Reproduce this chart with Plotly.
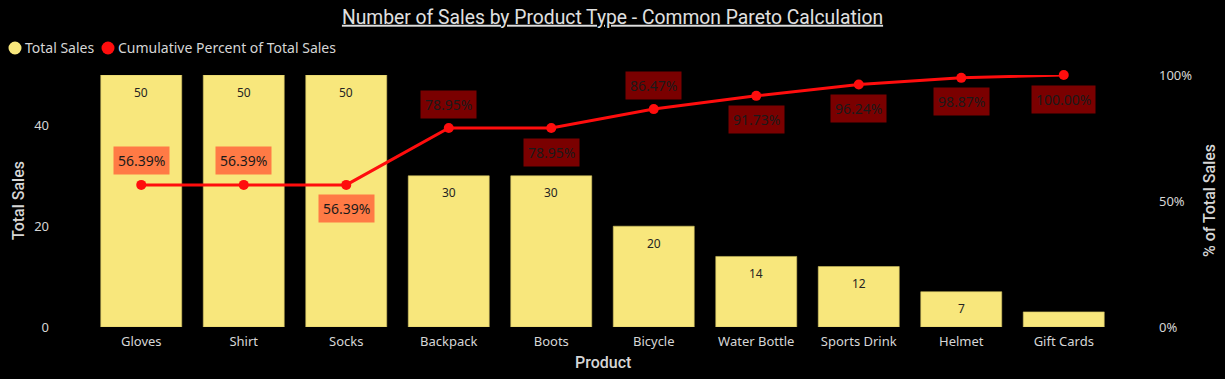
import plotly.graph_objects as go

products = ["Gloves", "Shirt", "Socks", "Backpack", "Boots", "Bicycle",
            "Water Bottle", "Sports Drink", "Helmet", "Gift Cards"]
total_sales = [50, 50, 50, 30, 30, 20, 14, 12, 7, 3]
cumulative_pct = [0.5639, 0.5639, 0.5639, 0.7895, 0.7895, 0.8647,
                  0.9173, 0.9624, 0.9887, 1.0]
pct_labels = ["56.39%", "56.39%", "56.39%", "78.95%", "78.95%", "86.47%",
              "91.73%", "96.24%", "98.87%", "100.00%"]
label_side = [1, 1, -1, 1, -1, 1, -1, -1, -1, -1]
legend_names = ["Total Sales", "Cumulative Percent of Total Sales"]

W, H = 1225, 379
L, R, T, B = 90, 110, 75, 52

BAR = "#F8E77C"
RED = "#FF0D0D"
TXT = "#D6D6D6"
UIFONT = "Segoe UI, Noto Sans, Open Sans, sans-serif"
DIN = "DIN, Roboto, Liberation Sans, sans-serif"

def px_x(px):
    return (px - L) / (W - L - R)

def px_y(py):
    return (H - B - py) / (H - T - B)

fig = go.Figure()
fig.add_trace(go.Bar(
    x=products, y=total_sales, name=legend_names[0],
    marker=dict(color=BAR, line=dict(color="#CDBE5E", width=0.6)),
    showlegend=False, hoverinfo="x+y"))
fig.add_trace(go.Scatter(
    x=products, y=cumulative_pct, yaxis="y2", mode="lines+markers", name=legend_names[1],
    line=dict(color=RED, width=3), marker=dict(color=RED, size=10),
    showlegend=False, cliponaxis=False))

ann = []
for p, v in zip(products, total_sales):
    if v >= 5:
        ann.append(dict(x=p, y=v, xref="x", yref="y", text=str(v), showarrow=False,
                        yshift=-17, font=dict(family=UIFONT, size=12, color="#252423")))
for p, c, lab, s in zip(products, cumulative_pct, pct_labels, label_side):
    bg = "#FF7A45" if c < 0.6 else "#7A0000"
    ann.append(dict(x=p, y=c, xref="x", yref="y2", text=lab, showarrow=False,
                    yshift=24 * s, bgcolor=bg, borderpad=4,
                    font=dict(family=UIFONT, size=14, color="#1A1A1A")))

# axis titles
axis_font = dict(family=DIN, size=16, color=TXT, weight=500)
ann.append(dict(x=px_x(18), y=px_y(201), xref="paper", yref="paper", text="Total Sales",
                textangle=-90, showarrow=False, xanchor="center", yanchor="middle",
                font=axis_font))
ann.append(dict(x=px_x(1209), y=px_y(201), xref="paper", yref="paper", text="% of Total Sales",
                textangle=-90, showarrow=False, xanchor="center", yanchor="middle",
                font=axis_font))
ann.append(dict(x=px_x(603), y=px_y(362), xref="paper", yref="paper", text="Product",
                showarrow=False, xanchor="center", yanchor="middle", font=axis_font))

# legend (circle symbol + text)
shapes = []
for name, col, cx, tx in zip(legend_names, [BAR, RED], [15, 108], [23, 116]):
    shapes.append(dict(type="circle", xref="paper", yref="paper",
                       xsizemode="pixel", ysizemode="pixel",
                       xanchor=px_x(cx), yanchor=px_y(48),
                       x0=-6.5, x1=6.5, y0=-6.5, y1=6.5,
                       fillcolor=col, line=dict(width=0)))
    ann.append(dict(x=px_x(tx), y=px_y(48), xref="paper", yref="paper", text=name,
                    showarrow=False, xanchor="left", yanchor="middle",
                    font=dict(family=UIFONT, size=14, color=TXT)))

fig.update_layout(
    width=W, height=H,
    margin=dict(l=L, r=R, t=T, b=B, autoexpand=False),
    paper_bgcolor="#000000", plot_bgcolor="#000000",
    bargap=0.21, showlegend=False,
    title=dict(text="Number of Sales by Product Type - Common Pareto Calculation",
               x=0.5, xref="container", xanchor="center",
               y=1 - 17 / H, yref="container", yanchor="middle",
               font=dict(family=DIN, size=19.3, color="#E0E0E0", lineposition="under")),
    xaxis=dict(range=[-0.5, len(products) - 0.5],
               tickfont=dict(family=UIFONT, size=13, color=TXT), showgrid=False,
               zeroline=False, showline=False, ticks="", automargin=False,
               ticklabelstandoff=5),
    yaxis=dict(range=[0, 50], tickvals=[0, 20, 40], showgrid=False, zeroline=False,
               tickfont=dict(family=UIFONT, size=13, color=TXT), ticklabelstandoff=40,
               automargin=False),
    yaxis2=dict(range=[0, 1], overlaying="y", side="right", tickvals=[0, 0.5, 1],
                tickformat=".0%", showgrid=False, zeroline=False,
                tickfont=dict(family=UIFONT, size=13, color=TXT), ticklabelstandoff=43,
                automargin=False),
    annotations=ann,
    shapes=shapes,
)

fig.write_html("out.html", config={"displayModeBar": False},
               post_script="document.body.style.margin='0';document.body.style.overflow='hidden';")
